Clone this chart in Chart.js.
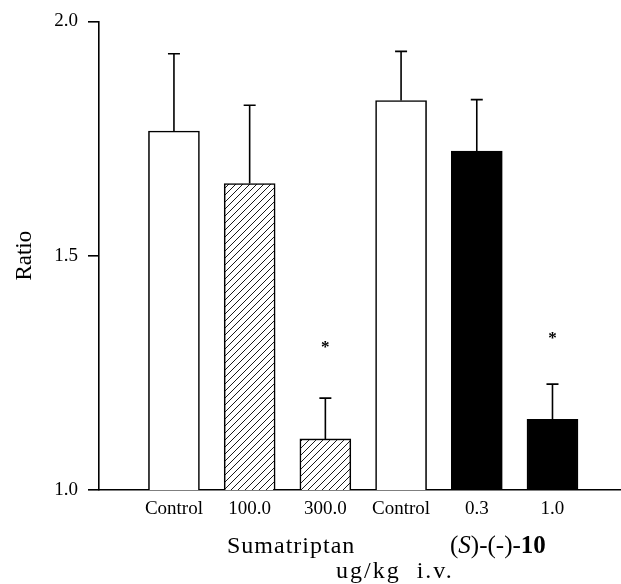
<!DOCTYPE html>
<html>
<head>
<meta charset="utf-8">
<script src="https://cdn.jsdelivr.net/npm/chart.js@4/dist/chart.umd.min.js"></script>
<style>
  html, body { margin: 0; padding: 0; background: #fff; }
</style>
</head>
<body>
<canvas id="myChart" width="621" height="584"></canvas>
<script>
// values
const doseLabels = ["Control", "100.0", "300.0", "Control", "0.3", "1.0"];
const ratioMeans = [1.766, 1.654, 1.109, 1.831, 1.723, 1.151];
const ratioSem = [0.165, 0.167, 0.087, 0.105, 0.110, 0.075];
const starLevels = [null, null, 1.31, null, null, 1.33];
const yTicks = [1.0, 1.5, 2.0];

const serif = "'Liberation Serif', 'Times New Roman', serif";
Chart.defaults.font.family = serif;
Chart.defaults.color = "#000";

// diagonal hatch for the sumatriptan bars
const makeHatch = () => {
  const n = 7;
  const c = document.createElement("canvas");
  c.width = n;
  c.height = n;
  const g = c.getContext("2d");
  g.fillStyle = "#fff";
  g.fillRect(0, 0, n, n);
  g.strokeStyle = "#000";
  g.lineWidth = 0.9;
  g.beginPath();
  g.moveTo(0, n);
  g.lineTo(n, 0);
  g.moveTo(-1, 1);
  g.lineTo(1, -1);
  g.moveTo(n - 1, n + 1);
  g.lineTo(n + 1, n - 1);
  g.stroke();
  return g.createPattern(c, "repeat");
};
const hatch = makeHatch();

const barFills = ["#fff", hatch, hatch, "#fff", "#000", "#000"];

// error bars (upper half only) and significance stars
const extras = {
  id: "extras",
  afterDatasetsDraw(chart) {
    const ctx = chart.ctx;
    const yScale = chart.scales.y;
    const bars = chart.getDatasetMeta(0).data;
    ctx.save();
    ctx.strokeStyle = "#000";
    ctx.lineWidth = 1.6;
    bars.forEach((bar, i) => {
      const top = yScale.getPixelForValue(ratioMeans[i] + ratioSem[i]);
      ctx.beginPath();
      ctx.moveTo(bar.x, bar.y);
      ctx.lineTo(bar.x, top);
      ctx.moveTo(bar.x - 6, top);
      ctx.lineTo(bar.x + 6, top);
      ctx.stroke();
      if (starLevels[i] != null) {
        ctx.fillStyle = "#000";
        ctx.font = "bold 17px " + serif;
        ctx.textAlign = "center";
        ctx.textBaseline = "middle";
        ctx.fillText("*", bar.x, yScale.getPixelForValue(starLevels[i]) + 3);
      }
    });
    ctx.restore();
  },
  afterDraw(chart) {
    const ctx = chart.ctx;
    ctx.save();
    ctx.fillStyle = "#000";
    ctx.textBaseline = "alphabetic";
    ctx.textAlign = "left";

    ctx.font = "24px " + serif;
    ctx.letterSpacing = "1px";
    ctx.fillText("Sumatriptan", 227, 553);
    ctx.letterSpacing = "2px";
    ctx.fillText("ug/kg  i.v.", 336, 578);
    ctx.letterSpacing = "0px";

    // (S)-(-)-10 with italic S and bold 10
    const parts = [
      ["(", "25px "],
      ["S", "italic 25px "],
      [")-(-)-", "25px "],
      ["10", "bold 25px "],
    ];
    let x = 450;
    parts.forEach(([txt, f]) => {
      ctx.font = f + serif;
      ctx.fillText(txt, x, 553);
      x += ctx.measureText(txt).width;
    });
    ctx.restore();
  },
};

const ctx = document.getElementById("myChart").getContext("2d");
const myChart = new Chart(ctx, {
  type: "bar",
  data: {
    datasets: [
      {
        label: "Ratio",
        data: ratioMeans.map((v, i) => ({ x: i + 1, y: v })),
        backgroundColor: barFills,
        borderColor: "#000",
        borderWidth: 1.6,
        borderSkipped: "bottom",
        barThickness: 51,
      },
    ],
  },
  options: {
    responsive: false,
    animation: false,
    layout: { padding: { top: 20, right: 0, bottom: 0, left: 0 } },
    plugins: {
      legend: { display: false },
      tooltip: { enabled: false },
    },
    scales: {
      x: {
        type: "linear",
        offset: false,
        min: 0.01,
        max: 6.905,
        afterFit: (s) => {
          s.height = 94;
        },
        afterBuildTicks: (s) => {
          s.ticks = doseLabels.map((l, i) => ({ value: i + 1 }));
        },
        ticks: {
          padding: 8,
          font: { size: 19 },
          maxRotation: 0,
          callback: (v) => doseLabels[v - 1],
        },
        grid: { drawOnChartArea: false, drawTicks: false },
        border: { display: true, color: "#000", width: 1.6 },
      },
      y: {
        min: 1,
        max: 2,
        afterFit: (s) => {
          s.width = 99;
        },
        afterBuildTicks: (s) => {
          s.ticks = yTicks.map((v) => ({ value: v }));
        },
        ticks: {
          padding: 10,
          font: { size: 19 },
          callback: (v) => v.toFixed(1),
        },
        grid: {
          drawOnChartArea: false,
          drawTicks: true,
          tickLength: 11,
          color: "#000",
          lineWidth: 1.6,
        },
        border: { display: true, color: "#000", width: 1.6 },
        title: {
          display: true,
          text: "Ratio",
          font: { size: 23 },
          padding: { top: 11, bottom: 0 },
        },
      },
    },
  },
  plugins: [extras],
});
</script>
</body>
</html>
